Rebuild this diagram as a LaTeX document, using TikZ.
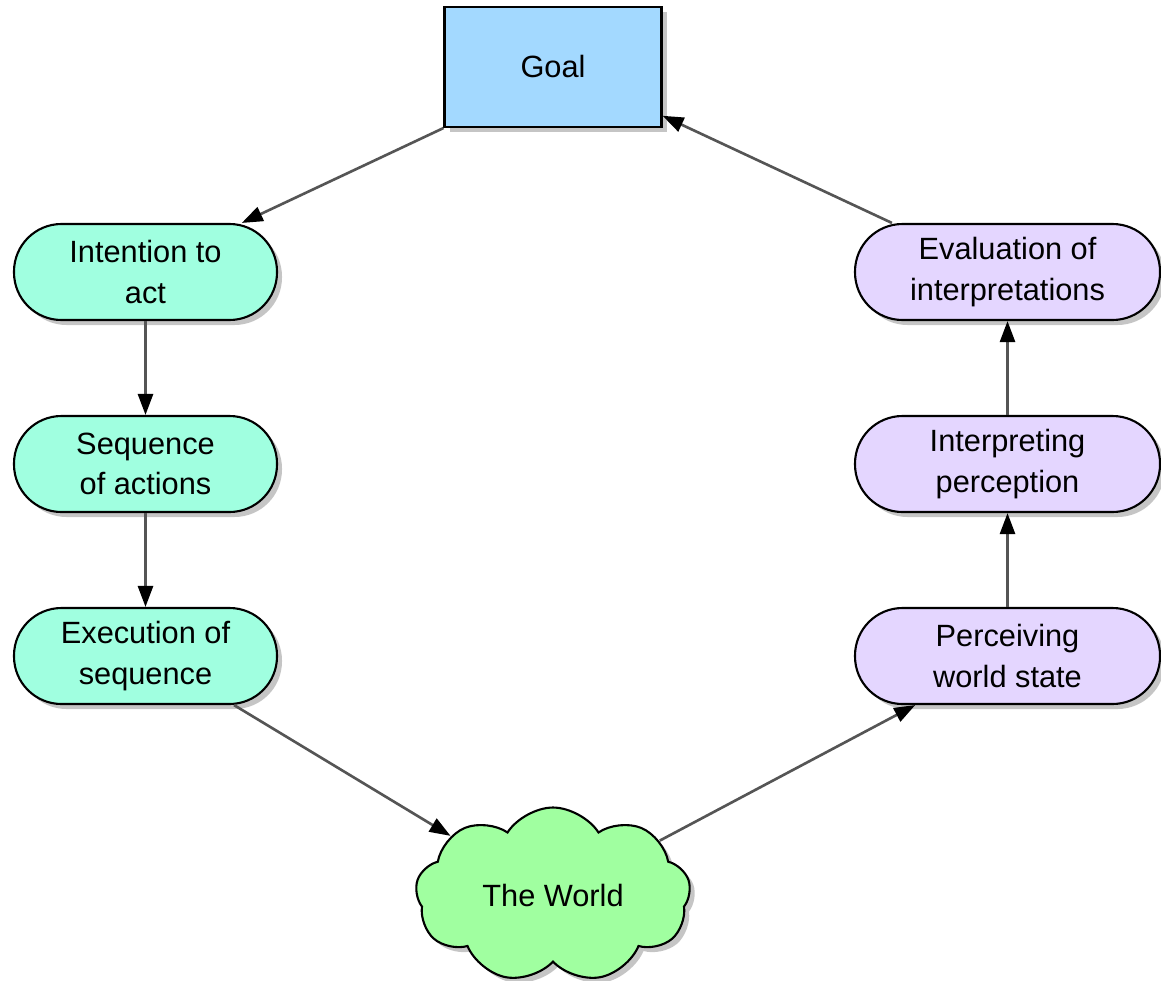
\documentclass[tikz,border=0pt]{standalone}
\usepackage{fontspec}
\setmainfont{Liberation Sans}
\usepackage{tikz}
\usetikzlibrary{shapes.symbols,shadows,arrows.meta}

\definecolor{goalblue}{RGB}{163,217,255}
\definecolor{actgreen}{RGB}{160,255,224}
\definecolor{evalpurple}{RGB}{228,214,255}
\definecolor{worldgreen}{RGB}{160,255,160}
\definecolor{flowgray}{RGB}{85,85,85}

\begin{document}
\begin{tikzpicture}[
  every node/.style = {draw, line width=1.2pt, align=center, text=black,
    font=\fontsize{17.5}{23}\selectfont,
    drop shadow={shadow xshift=0.1cm, shadow yshift=-0.1cm, fill=black!45, opacity=.5}},
  goalbox/.style = {rectangle, fill=goalblue, minimum width=4.34cm, minimum height=2.4cm},
  actbox/.style = {rectangle, rounded corners=0.95cm, fill=actgreen,
    minimum width=5.26cm, minimum height=1.92cm},
  evalbox/.style = {rectangle, rounded corners=0.95cm, fill=evalpurple,
    minimum width=6.1cm, minimum height=1.92cm},
  worldcloud/.style = {cloud, cloud puffs=9, cloud puff arc=115, aspect=1.6,
    fill=worldgreen, minimum width=5.5cm, minimum height=3.5cm},
  flow/.style = {draw=flowgray, line width=1.5pt,
    -{Triangle[length=0.42cm, width=0.3cm, color=black]}}]
  \useasboundingbox (0,0) rectangle (23.22,-19.6);
  \node[goalbox] (goal) at (11.06,-1.34) {Goal};
  \node[actbox] (int) at (2.91,-5.44) {Intention to\\act};
  \node[actbox] (seq) at (2.91,-9.28) {Sequence\\of actions};
  \node[actbox] (exe) at (2.91,-13.12) {Execution of\\sequence};
  \node[evalbox] (eva) at (20.15,-5.44) {Evaluation of\\interpretations};
  \node[evalbox] (intp) at (20.15,-9.28) {Interpreting\\perception};
  \node[evalbox] (per) at (20.15,-13.12) {Perceiving\\world state};
  \node[worldcloud] (world) at (11.06,-17.9) {The World};
  % execution side
  \draw[flow] (goal.south west) -- (int.27);
  \draw[flow] (int.south) -- (seq.north);
  \draw[flow] (seq.south) -- (exe.north);
  \draw[flow] (exe.-29) -- (world.150);
  % evaluation side
  \draw[flow] (world.27) -- (per.208);
  \draw[flow] (per.north) -- (intp.south);
  \draw[flow] (intp.north) -- (eva.south);
  \draw[flow] (eva.157) -- (goal.-24);
\end{tikzpicture}
\end{document}
